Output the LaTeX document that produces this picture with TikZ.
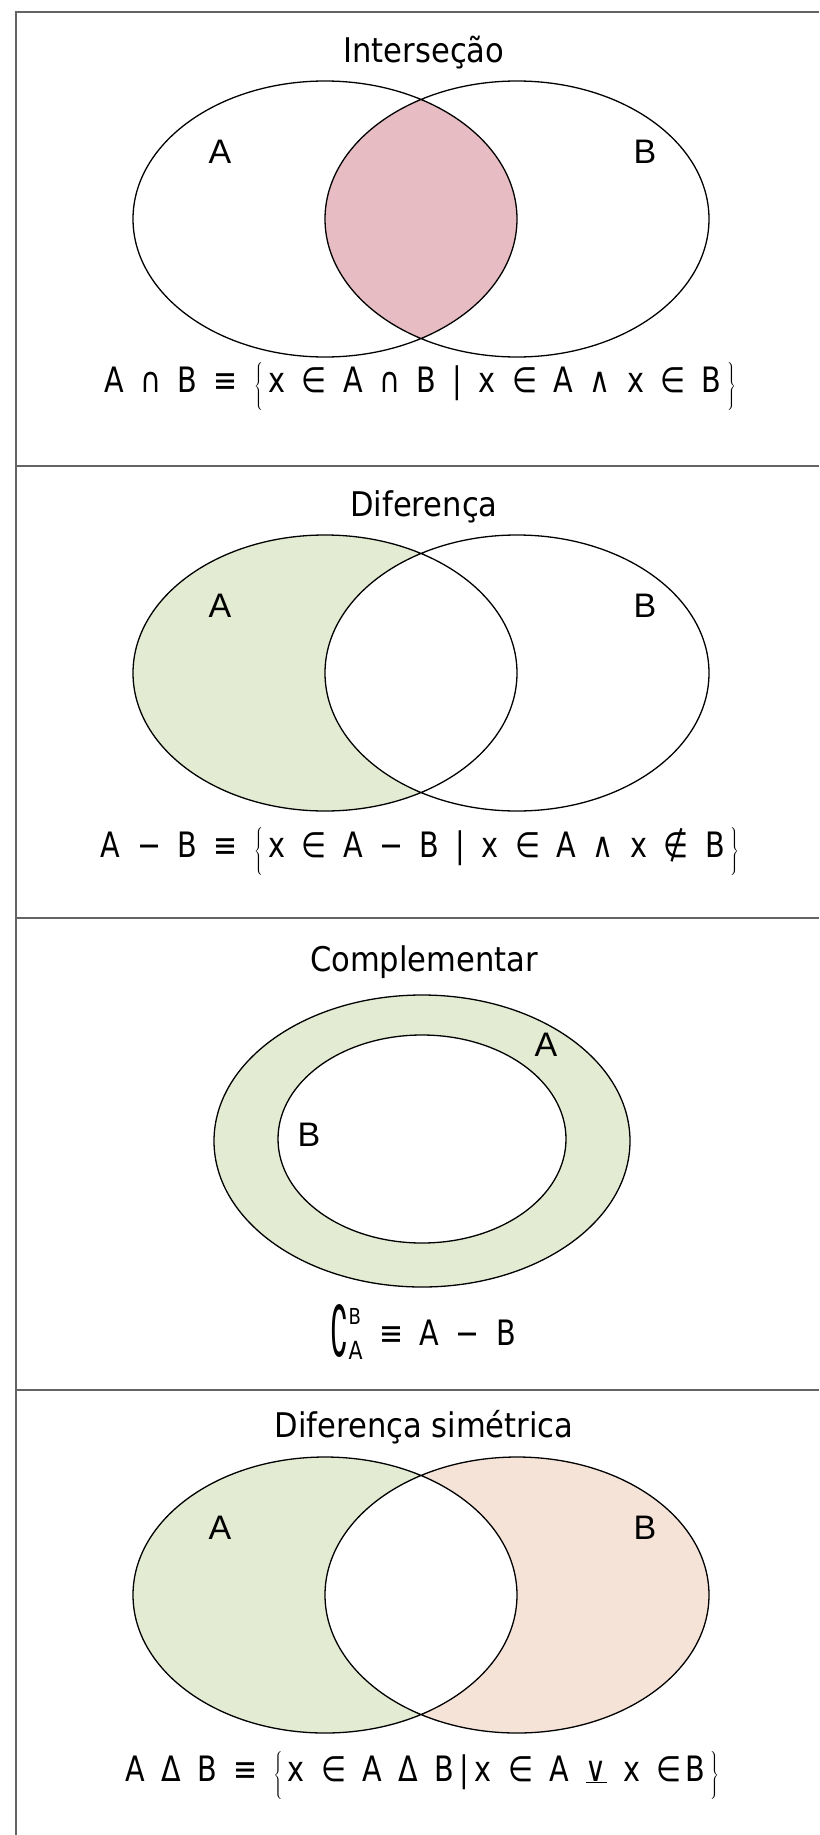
\documentclass[tikz,border=0pt]{standalone}
\usepackage{fontspec}
\usepackage{graphicx}
\setmainfont{DejaVu Sans}
\newfontfamily\lblfont{Liberation Sans}
\newfontfamily\ttlfont{DejaVu Sans}[FakeStretch=0.9]
\newfontfamily\fmlfont{DejaVu Sans}[FakeStretch=0.82, WordSpace=1.8]
\usepackage{tikz}
\definecolor{lenspink}{RGB}{231,188,195}
\definecolor{setgreen}{RGB}{227,236,211}
\definecolor{setpeach}{RGB}{246,227,216}
\definecolor{framegray}{RGB}{100,100,100}

\def\setA{(325,0) ellipse [x radius=192, y radius=138]}
\def\setB{(517,0) ellipse [x radius=192, y radius=138]}
\def\outerA{(422,1141) ellipse [x radius=208, y radius=146]}
\def\innerB{(422,1139) ellipse [x radius=144, y radius=104]}
\newcommand{\setopen}{$\left\{\vrule height 0.85em depth 0.32em width 0pt\right.$\kern0.12em}
\newcommand{\setclose}{\kern0.12em$\left.\vrule height 0.85em depth 0.32em width 0pt\right\}$}
\newcommand{\cmplAB}{\raisebox{-0.34em}{\scalebox{1}[2]{∁}}%
  \makebox[0pt][l]{\raisebox{21pt}{\fontsize{22}{22}\selectfont B}}%
  \raisebox{-14pt}{\fontsize{25}{25}\selectfont A}}

\begin{document}
\begin{tikzpicture}[x=1pt, y=-1pt,
    frame/.style={draw=framegray, line width=2.4pt},
    venn/.style={draw=black, line width=1.3pt},
    ttl/.style={font=\ttlfont\fontsize{34}{40}\selectfont},
    lbl/.style={font=\lblfont\fontsize{34}{40}\selectfont},
    fml/.style={font=\fmlfont\fontsize{35}{42}\selectfont}]
\useasboundingbox (0,0) rectangle (819,1835);
\fill[white] (0,0) rectangle (819,1835);

% frame and separators
\draw[frame] (819,12) -| (16,1835);
\draw[frame] (16,466) -- (819,466);
\draw[frame] (16,918) -- (819,918);
\draw[frame] (16,1390) -- (819,1390);

% intersection
\begin{scope}[shift={(0,219)}]
  \begin{scope}
    \clip \setA;
    \fill[lenspink] \setB;
  \end{scope}
  \draw[venn] \setA \setB;
\end{scope}
\node[ttl] (t1) at (424,53) {Interseção};
\node[lbl] (a1) at (220,152) {A};
\node[lbl] (b1) at (645,152) {B};
\node[fml] (f1) at (420,386)
  {A ∩ B ≡ \setopen x ∈ A ∩ B | x ∈ A ∧ x ∈ B\setclose};

% difference
\begin{scope}[shift={(0,673)}]
  \fill[setgreen] \setA;
  \begin{scope}
    \clip \setA;
    \fill[white] \setB;
  \end{scope}
  \draw[venn] \setA \setB;
\end{scope}
\node[ttl] (t2) at (424,507) {Diferença};
\node[lbl] (a2) at (220,606) {A};
\node[lbl] (b2) at (645,606) {B};
\node[fml] (f2) at (420,851)
  {A − B ≡ \setopen x ∈ A − B | x ∈ A ∧ x ∉ B\setclose};

% complement
\fill[setgreen] \outerA;
\fill[white] \innerB;
\draw[venn] \outerA \innerB;
\node[ttl] (t3) at (424,962) {Complementar};
\node[lbl] (a3) at (546,1045) {A};
\node[lbl] (b3) at (309,1135) {B};
\node[fml] (f3) at (423,1332) {\cmplAB{} ≡ A − B};

% symmetric difference
\begin{scope}[shift={(0,1595)}]
  \fill[setgreen] \setA;
  \fill[setpeach] \setB;
  \begin{scope}
    \clip \setA;
    \fill[white] \setB;
  \end{scope}
  \draw[venn] \setA \setB;
\end{scope}
\node[ttl] (t4) at (424,1427) {Diferença simétrica};
\node[lbl] (a4) at (220,1528) {A};
\node[lbl] (b4) at (645,1528) {B};
\node[fml] (f4) at (422,1775)
  {A Δ B ≡ \setopen x ∈ A Δ B\kern0.15em|\kern0.15em x ∈ A \underline{∨} x ∈\kern0.1em B\setclose};
\end{tikzpicture}
\end{document}
